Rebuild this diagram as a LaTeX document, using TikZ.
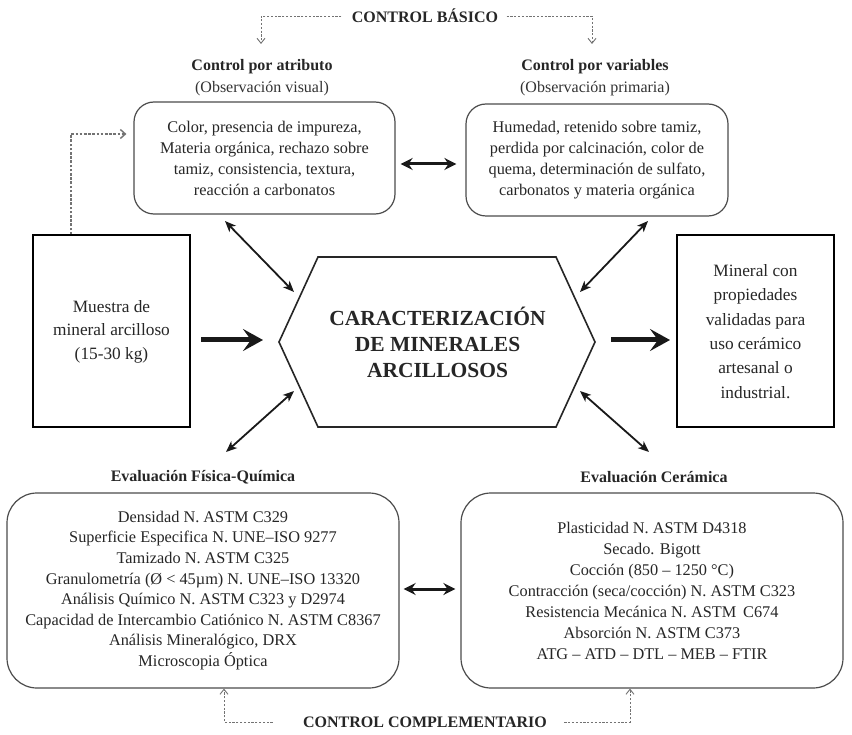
\documentclass[tikz,border=0pt]{standalone}
\usepackage{fontspec}
\setmainfont{Liberation Serif}
\usetikzlibrary{arrows.meta}
\begin{document}
\begin{tikzpicture}[x=1pt,y=-1pt,
  body/.style={font=\fontsize{16.3}{21}\selectfont, align=center, text=black!85},
  rbox/.style={body, draw=black!70, line width=1.2pt, inner sep=0pt},
  sidebox/.style={draw=black, line width=2pt, inner sep=0pt, align=center,
    font=\fontsize{17.3}{23.6}\selectfont, text=black!85, minimum height=192pt},
  ttl/.style={font=\bfseries\fontsize{16}{20}\selectfont, text=black!85},
  sub/.style={font=\fontsize{16}{20}\selectfont, text=black!80},
  mainarrow/.style={line width=5pt, black!90, -{Stealth[length=20pt,width=22pt,inset=8pt]}},
  dbl/.style={line width=1.8pt, black!90, {Stealth[length=11pt,width=9pt,inset=3pt]}-{Stealth[length=11pt,width=9pt,inset=3pt]}},
  dbltop/.style={line width=3pt, black!90, {Stealth[length=12pt,width=12pt,inset=4pt]}-{Stealth[length=12pt,width=12pt,inset=4pt]}},
  dashedarrow/.style={draw=black!55, line width=0.9pt, dash pattern=on 2.2pt off 1.6pt,
    -{Straight Barb[length=5pt,width=8pt]}},
  dottedarrow/.style={draw=black!55, line width=1.4pt, dash pattern=on 2.6pt off 1.6pt,
    -{Straight Barb[length=5pt,width=9pt]}}]
\useasboundingbox[fill=white] (0,0) rectangle (852,735);

% top titles
\node[ttl] (cbasico) at (425,16) {CONTROL BÁSICO};
\node[ttl] (tatr) at (262,67) {Control por atributo};
\node[sub] (satr) at (262,89) {(Observación visual)};
\node[ttl] (tvar) at (595,67) {Control por variables};
\node[sub] (svar) at (595,89) {(Observación primaria)};

% top boxes
\node[rbox, rounded corners=20pt, minimum width=261pt, minimum height=112pt] (atr) at (264.5,158)
  {Color, presencia de impureza,\\Materia orgánica, rechazo sobre\\tamiz, consistencia, textura,\\reacción a carbonatos};
\node[rbox, rounded corners=20pt, minimum width=262pt, minimum height=112pt] (var) at (597,160)
  {Humedad, retenido sobre tamiz,\\perdida por calcinación, color de\\quema, determinación de sulfato,\\carbonatos y materia orgánica};

% side boxes
\node[sidebox, minimum width=157pt] (muestra) at (111.5,331.5) {Muestra de\\mineral arcilloso\\(15-30 kg)};
\node[sidebox, minimum width=157pt, font=\fontsize{17.3}{24.3}\selectfont] (mineral) at (755.5,331.5)
  {Mineral con\\propiedades\\validadas para\\uso cerámico\\artesanal o\\industrial.};

% hexagon
\draw[line width=1.6pt, black!85] (318,257) -- (556,257) -- (595,342) -- (556,427) -- (318,427) -- (279,342) -- cycle;
\node[font=\bfseries\fontsize{21.5}{26}\selectfont, align=center, text=black!85] (carac) at (437.5,342)
  {CARACTERIZACIÓN\\DE MINERALES\\ARCILLOSOS};

% bottom titles
\node[ttl] (tfq) at (203,477) {Evaluación Física-Química};
\node[ttl] (tcer) at (654,477) {Evaluación Cerámica};

% bottom boxes
\node[rbox, rounded corners=30pt, minimum width=392pt, minimum height=195pt, font=\fontsize{16.3}{20.6}\selectfont] (fq) at (203,590.5)
  {Densidad N. ASTM C329\\Superficie Especifica N. UNE–ISO 9277\\Tamizado N. ASTM C325\\Granulometría (Ø < 45µm) N. UNE–ISO 13320\\Análisis Químico N. ASTM C323 y D2974\\Capacidad de Intercambio Catiónico N. ASTM C8367\\Análisis Mineralógico, DRX\\Microscopia Óptica};
\node[rbox, rounded corners=30pt, minimum width=382pt, minimum height=195pt, font=\fontsize{16.3}{21}\selectfont] (cer) at (652,590.5)
  {Plasticidad N. ASTM D4318\\Secado. Bigott\\Cocción (850 – 1250 °C)\\Contracción (seca/cocción) N. ASTM C323\\Resistencia Mecánica N. ASTM\, C674\\Absorción N. ASTM C373\\ATG – ATD – DTL – MEB – FTIR};

\node[ttl] (ccomp) at (425,722) {CONTROL COMPLEMENTARIO};

% main arrows
\draw[mainarrow] ([xshift=10pt]muestra.east |- 0,340) -- (263,340);
\draw[mainarrow] (611,340) -- ([xshift=-6pt]mineral.west |- 0,340);

% double arrows
\draw[dbltop] ([xshift=5pt]atr.east |- 0,164) -- ([xshift=-9pt]var.west |- 0,164);
\coordinate (a1) at (225,221); \coordinate (h1) at (294,292);
\coordinate (a2) at (648,221); \coordinate (h2) at (580,292);
\coordinate (a3) at (226,452); \coordinate (h3) at (294,391);
\coordinate (a4) at (649,452); \coordinate (h4) at (580,391);
\draw[dbl] (a1) -- (h1);
\draw[dbl] (a2) -- (h2);
\draw[dbl] (h3) -- (a3);
\draw[dbl] (h4) -- (a4);
\draw[dbltop] ([xshift=4pt]fq.east |- 0,589) -- ([xshift=-5pt]cer.west |- 0,589);

% dashed control lines
\draw[dashedarrow] ([xshift=-7pt]cbasico.west) -- (261,16) -- (261,44);
\draw[dashedarrow] ([xshift=5pt]cbasico.east) -- (592,16) -- (592,44);
\draw[dashedarrow] ([xshift=-27pt]ccomp.west) -- (224,722) -- (fq.south -| 224,0);
\draw[dashedarrow] ([xshift=14pt]ccomp.east) -- (630,722) -- (cer.south -| 630,0);

% dotted feedback
\draw[dottedarrow] (muestra.north -| 71,0) -- (71,134) -- ([xshift=-7pt]atr.west |- 0,134);
\end{tikzpicture}
\end{document}
